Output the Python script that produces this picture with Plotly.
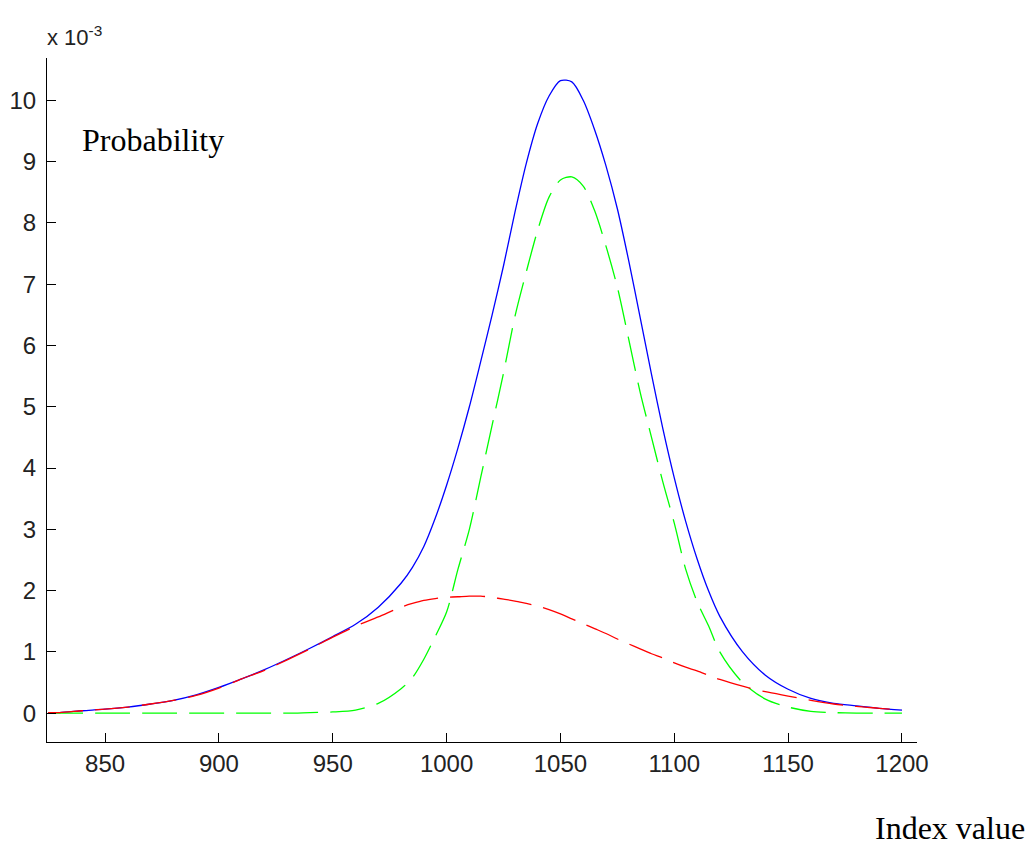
import plotly.graph_objects as go

# Index values (x) shared by all three curves
index_value = [825, 830, 840, 850, 860, 870, 880, 890, 900, 910, 920, 930, 940, 950,
               960, 970, 980, 985, 990, 995, 1000, 1005, 1010, 1015, 1020, 1025, 1030,
               1035, 1040, 1045, 1050, 1055, 1060, 1065, 1070, 1075, 1080, 1085, 1090,
               1095, 1100, 1105, 1110, 1115, 1120, 1130, 1140, 1150, 1160, 1170, 1180,
               1190, 1200]

# Probabilities, in units of 1e-3
total = [0.01, 0.01, 0.04, 0.065, 0.10, 0.15, 0.21, 0.30, 0.42, 0.56, 0.71, 0.88, 1.06, 1.25,
         1.45, 1.73, 2.12, 2.38, 2.72, 3.18, 3.72, 4.33, 5.00, 5.74, 6.50, 7.30, 8.17,
         8.97, 9.62, 10.07, 10.32, 10.30, 10.00, 9.52, 8.93, 8.23, 7.38, 6.46, 5.53,
         4.64, 3.84, 3.13, 2.52, 2.00, 1.58, 1.00, 0.62, 0.39, 0.24, 0.16, 0.12,
         0.08, 0.05]

narrow_component = [0, 0, 0, 0, 0, 0, 0, 0, 0, 0, 0, 0, 0.01, 0.02,
                    0.05, 0.16, 0.40, 0.58, 0.88, 1.25, 1.65, 2.35, 3.00, 3.85, 4.70, 5.55, 6.47,
                    7.20, 7.88, 8.42, 8.70, 8.75, 8.60, 8.20, 7.62, 6.95, 6.10, 5.24, 4.50,
                    3.77, 3.10, 2.35, 1.82, 1.43, 1.00, 0.50, 0.23, 0.10, 0.03, 0.01, 0,
                    0, 0]

wide_component = [0.01, 0.01, 0.04, 0.065, 0.10, 0.15, 0.21, 0.29, 0.41, 0.56, 0.70, 0.87, 1.05, 1.24,
                  1.42, 1.57, 1.73, 1.79, 1.84, 1.87, 1.89, 1.90, 1.91, 1.91, 1.89, 1.86, 1.83,
                  1.79, 1.75, 1.69, 1.62, 1.54, 1.46, 1.38, 1.30, 1.21, 1.13, 1.05, 0.97,
                  0.90, 0.82, 0.75, 0.69, 0.62, 0.55, 0.44, 0.35, 0.28, 0.21, 0.15, 0.11,
                  0.08, 0.05]

x_ticks = [850, 900, 950, 1000, 1050, 1100, 1150, 1200]
y_ticks = [0, 1, 2, 3, 4, 5, 6, 7, 8, 9, 10]

tick_font = dict(family="Liberation Sans, Arial, sans-serif", size=24, color="#222222")
serif_font = dict(family="Liberation Serif, Times New Roman, serif", size=32, color="black")

fig = go.Figure()
fig.add_trace(go.Scatter(
    x=index_value, y=total, mode="lines",
    line=dict(color="#0000FF", width=1.3, shape="spline", smoothing=0.8),
))
fig.add_trace(go.Scatter(
    x=index_value, y=narrow_component, mode="lines",
    line=dict(color="#00FF00", width=1.3, dash="35px,12px", shape="spline", smoothing=0.8),
))
fig.add_trace(go.Scatter(
    x=index_value, y=wide_component, mode="lines",
    line=dict(color="#FF0000", width=1.3, dash="35px,12px", shape="spline", smoothing=0.8),
))

axis_common = dict(
    showline=True, linecolor="black", linewidth=1, mirror=False,
    showgrid=False, zeroline=False, automargin=False,
    ticks="inside", ticklen=9, tickwidth=1, tickcolor="black",
    tickfont=tick_font,
)

fig.update_layout(
    width=1030, height=847, autosize=False,
    margin=dict(l=47, r=113, t=58, b=105),
    paper_bgcolor="white", plot_bgcolor="white",
    showlegend=False,
    xaxis=dict(range=[824.5, 1206.6], tickvals=x_ticks,
               ticktext=[str(v) for v in x_ticks], ticklabelstandoff=0, **axis_common),
    yaxis=dict(range=[-0.47, 10.69], tickvals=y_ticks,
               ticktext=[str(v) for v in y_ticks], ticklabelstandoff=5, **axis_common),
    annotations=[
        dict(text="x 10<sup>-3</sup>", xref="paper", yref="paper", x=0, y=1,
             xanchor="left", yanchor="bottom", yshift=6, xshift=-2,
             showarrow=False, font=dict(family="Liberation Sans, Arial, sans-serif",
                                        size=22, color="#222222")),
        dict(text="Probability", xref="paper", yref="paper", x=0, y=1,
             xanchor="left", yanchor="top", xshift=33, yshift=-62,
             showarrow=False, font=serif_font),
        dict(text="Index value", xref="paper", yref="paper", x=1, y=0,
             xanchor="right", yanchor="bottom", xshift=110, yshift=-106,
             showarrow=False, font=serif_font),
    ],
)

fig.write_html("out.html")
